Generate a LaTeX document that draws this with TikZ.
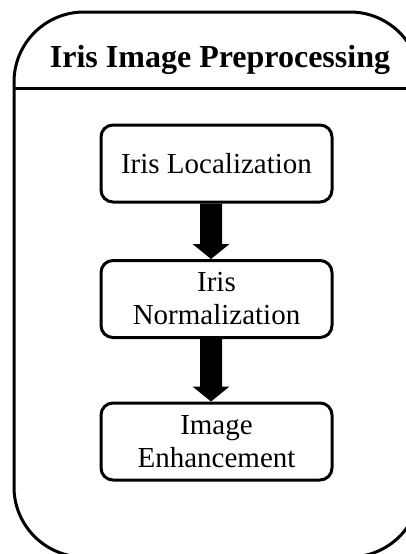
\documentclass[tikz,border=0pt]{standalone}
\usepackage{fontspec}
\setmainfont{Liberation Serif}
\usetikzlibrary{calc}

\tikzset{
  frameline/.style={line width=3pt},
  stagebox/.style={draw, line width=3pt, rounded corners=12pt,
    minimum width=231pt, minimum height=77pt, inner sep=0pt,
    align=center, font=\fontsize{29}{33}\selectfont},
  headtext/.style={font=\fontsize{32}{36}\selectfont\bfseries, inner sep=0pt}
}

\begin{document}
\begin{tikzpicture}[x=1pt, y=-1pt]
  \useasboundingbox (0,0) rectangle (406,554);
  \clip (0,0) rectangle (406,554);

  % outer swimlane frame and header rule
  \draw[frameline, rounded corners=70pt] (14,12) rectangle (420,557);
  \coordinate (hl) at (14,88);
  \coordinate (hr) at (420,88);
  \draw[frameline] (hl) -- (hr);

  % header
  \node[headtext, anchor=base] (title) at (220,67) {Iris Image Preprocessing};

  % processing stages
  \node[stagebox] (b1) at (216.5,163.5) {Iris Localization};
  \node[stagebox] (b2) at (216.5,299) {Iris\\Normalization};
  \node[stagebox] (b3) at (216.5,441.5) {Image\\Enhancement};

  % block arrows between stages
  \coordinate (ax) at (211,0);
  \foreach \u/\v in {b1/b2, b2/b3} {
    \fill ($(\u.south -| ax)+(-11,0)$)
      -- ($(\v.north -| ax)+(-11,-15)$)
      -- ($(\v.north -| ax)+(-18.5,-15)$)
      -- (\v.north -| ax)
      -- ($(\v.north -| ax)+(18.5,-15)$)
      -- ($(\v.north -| ax)+(11,-15)$)
      -- ($(\u.south -| ax)+(11,0)$) -- cycle;
  }
\end{tikzpicture}
\end{document}
